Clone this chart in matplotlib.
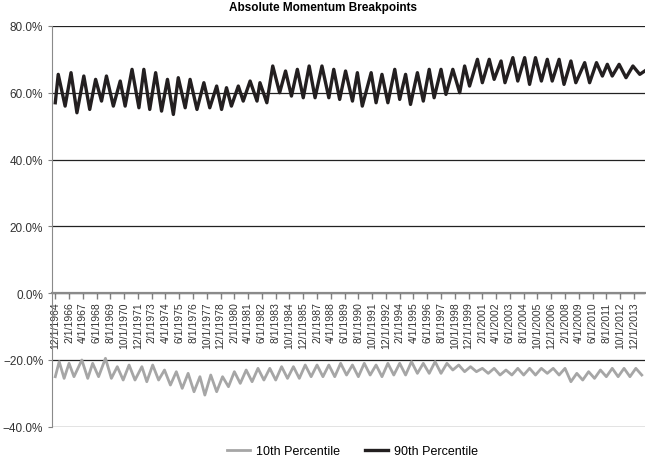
import matplotlib
matplotlib.use("Agg")
import matplotlib.pyplot as plt
from matplotlib.ticker import PercentFormatter

plt.rcParams['font.family'] = ['Liberation Sans', 'DejaVu Sans']

# x tick labels, one every 14 months starting Dec 1964
tick_labels = ['12/1/1964', '2/1/1966', '4/1/1967', '6/1/1968', '8/1/1969', '10/1/1970',
               '12/1/1971', '2/1/1973', '4/1/1974', '6/1/1975', '8/1/1976', '10/1/1977',
               '12/1/1978', '2/1/1980', '4/1/1981', '6/1/1982', '8/1/1983', '10/1/1984',
               '12/1/1985', '2/1/1987', '4/1/1988', '6/1/1989', '8/1/1990', '10/1/1991',
               '12/1/1992', '2/1/1994', '4/1/1995', '6/1/1996', '8/1/1997', '10/1/1998',
               '12/1/1999', '2/1/2001', '4/1/2002', '6/1/2003', '8/1/2004', '10/1/2005',
               '12/1/2006', '2/1/2008', '4/1/2009', '6/1/2010', '8/1/2011', '10/1/2012',
               '12/1/2013']

# 90th percentile: month offset from 12/1964 and value (%) at turning points
p90_month = [0, 3, 10, 16, 22, 29, 35, 41, 47, 52, 59, 66, 71, 78, 85, 90, 96, 102, 108, 114,
             120, 125, 132, 137, 144, 151, 157, 164, 169, 174, 179, 186, 191, 198, 205, 208,
             215, 221, 228, 234, 240, 246, 252, 258, 264, 271, 278, 283, 289, 295, 302, 307,
             312, 321, 326, 332, 338, 345, 350, 356, 361, 368, 374, 380, 385, 392, 397, 404,
             411, 416, 421, 429, 434, 441, 446, 453, 457, 465, 470, 477, 482, 488, 494, 500,
             505, 512, 517, 524, 529, 538, 543, 550, 556, 561, 566, 573, 580, 587, 594, 599]
p90_value = [57, 65.5, 56, 66, 54, 65, 55, 64, 57.5, 65, 56, 63.5, 56, 67, 55.5, 67, 55, 66, 54.5, 64,
             53.5, 64.5, 55.5, 64, 55, 63, 55.5, 62, 55, 61.5, 56, 62, 57.5, 63.5, 57.5, 63,
             57, 68, 60, 66.5, 59, 67, 58.5, 68, 58.5, 68, 58.5, 67, 58, 66.5, 57.5, 66,
             56, 66, 57, 65.5, 57, 67, 58, 65.5, 56.5, 66, 57.5, 67, 58.5, 67, 59.5, 67,
             60, 68, 62, 70, 63, 70, 64, 69.5, 63, 70.5, 63.5, 70.5, 62.5, 70.5, 63.5, 70,
             63.5, 70, 62.5, 69.5, 63, 69, 63, 69, 65, 68.5, 65, 68.5, 64.5, 68, 65.5, 66.5]

# 10th percentile turning points
p10_month = [0, 4, 9, 14, 19, 27, 33, 38, 44, 51, 57, 63, 69, 75, 81, 88, 93, 99, 105, 111,
             117, 123, 129, 135, 141, 147, 152, 158, 164, 170, 176, 182, 188, 194, 200, 206,
             212, 218, 224, 230, 236, 242, 248, 254, 260, 266, 272, 278, 284, 290, 296, 302,
             308, 314, 320, 326, 332, 338, 344, 350, 356, 362, 368, 374, 380, 386, 392, 398,
             404, 410, 416, 422, 428, 434, 440, 446, 452, 458, 464, 470, 476, 482, 488, 494,
             500, 506, 512, 518, 524, 530, 536, 542, 548, 554, 560, 566, 572, 578, 584, 590, 596]
p10_value = [-25, -20.5, -25.5, -21, -25, -20, -25.5, -21, -25, -19.5, -25.5, -22, -26, -21.5,
             -26, -22, -26.5, -21.5, -26, -23, -27.5, -23.5, -28.5, -24, -29.5, -25, -30.5,
             -24.5, -29.5, -25, -28, -23.5, -27, -23, -26.5, -22.5, -26, -22.5, -26, -22,
             -25.5, -22, -25.5, -21.5, -25, -21.5, -25, -21.5, -25, -21, -24.5, -21.5, -25,
             -21, -24.5, -21.5, -25, -21, -24.5, -21, -24.5, -20.5, -24, -21, -24, -20.5,
             -24, -21, -23, -21.5, -23.5, -22, -23.5, -22.5, -24, -22.5, -24.5, -23, -24.5,
             -22.5, -24.5, -22.5, -24.5, -22.5, -24, -22.5, -24.5, -22.5, -26.5, -24, -26,
             -23.5, -25.5, -23, -25, -22.5, -25, -22.5, -25, -22.5, -24.5]

fig = plt.figure(figsize=(6.46, 4.64), dpi=100)
ax = fig.add_axes([0.081, 0.078, 0.917, 0.864])

# move the x axis to the 0% line first (this resets the ticks)
ax.spines['bottom'].set_position(('data', 0))
ax.spines['bottom'].set_color('#8a8a8a')
ax.spines['bottom'].set_linewidth(1.6)
ax.spines['left'].set_color('#8a8a8a')
ax.spines['top'].set_visible(False)
ax.spines['right'].set_visible(False)

ax.plot(p10_month, p10_value, color='#a6a6a6', lw=2.0, label='10th Percentile')
ax.plot(p90_month, p90_value, color='#231f20', lw=2.4, label='90th Percentile')

ax.set_ylim(-40, 80)
ax.set_yticks(range(-40, 81, 20))
ax.yaxis.set_major_formatter(PercentFormatter(decimals=1))
ax.set_xlim(-3, 599)
ax.set_xticks(range(0, 589, 14))
ax.set_xticklabels(tick_labels, rotation=90, fontsize=7.5, color='#333333')
ax.tick_params(axis='x', direction='out', length=4, width=1, color='#808080', pad=2)
ax.tick_params(axis='y', direction='out', length=3, color='#808080', labelsize=8.5,
               labelcolor='#333333')

ax.grid(axis='y', color='#222222', lw=0.9)
ax.set_axisbelow(True)

fig.text(0.5, 0.982, 'Absolute Momentum Breakpoints', ha='center', va='center',
         fontsize=8.5, fontweight='bold')
fig.legend(loc='lower center', ncol=2, frameon=False, fontsize=9,
           bbox_to_anchor=(0.546, -0.012), handlelength=1.8, handletextpad=0.5,
           columnspacing=2.0)

fig.savefig('out.png', dpi=100)
